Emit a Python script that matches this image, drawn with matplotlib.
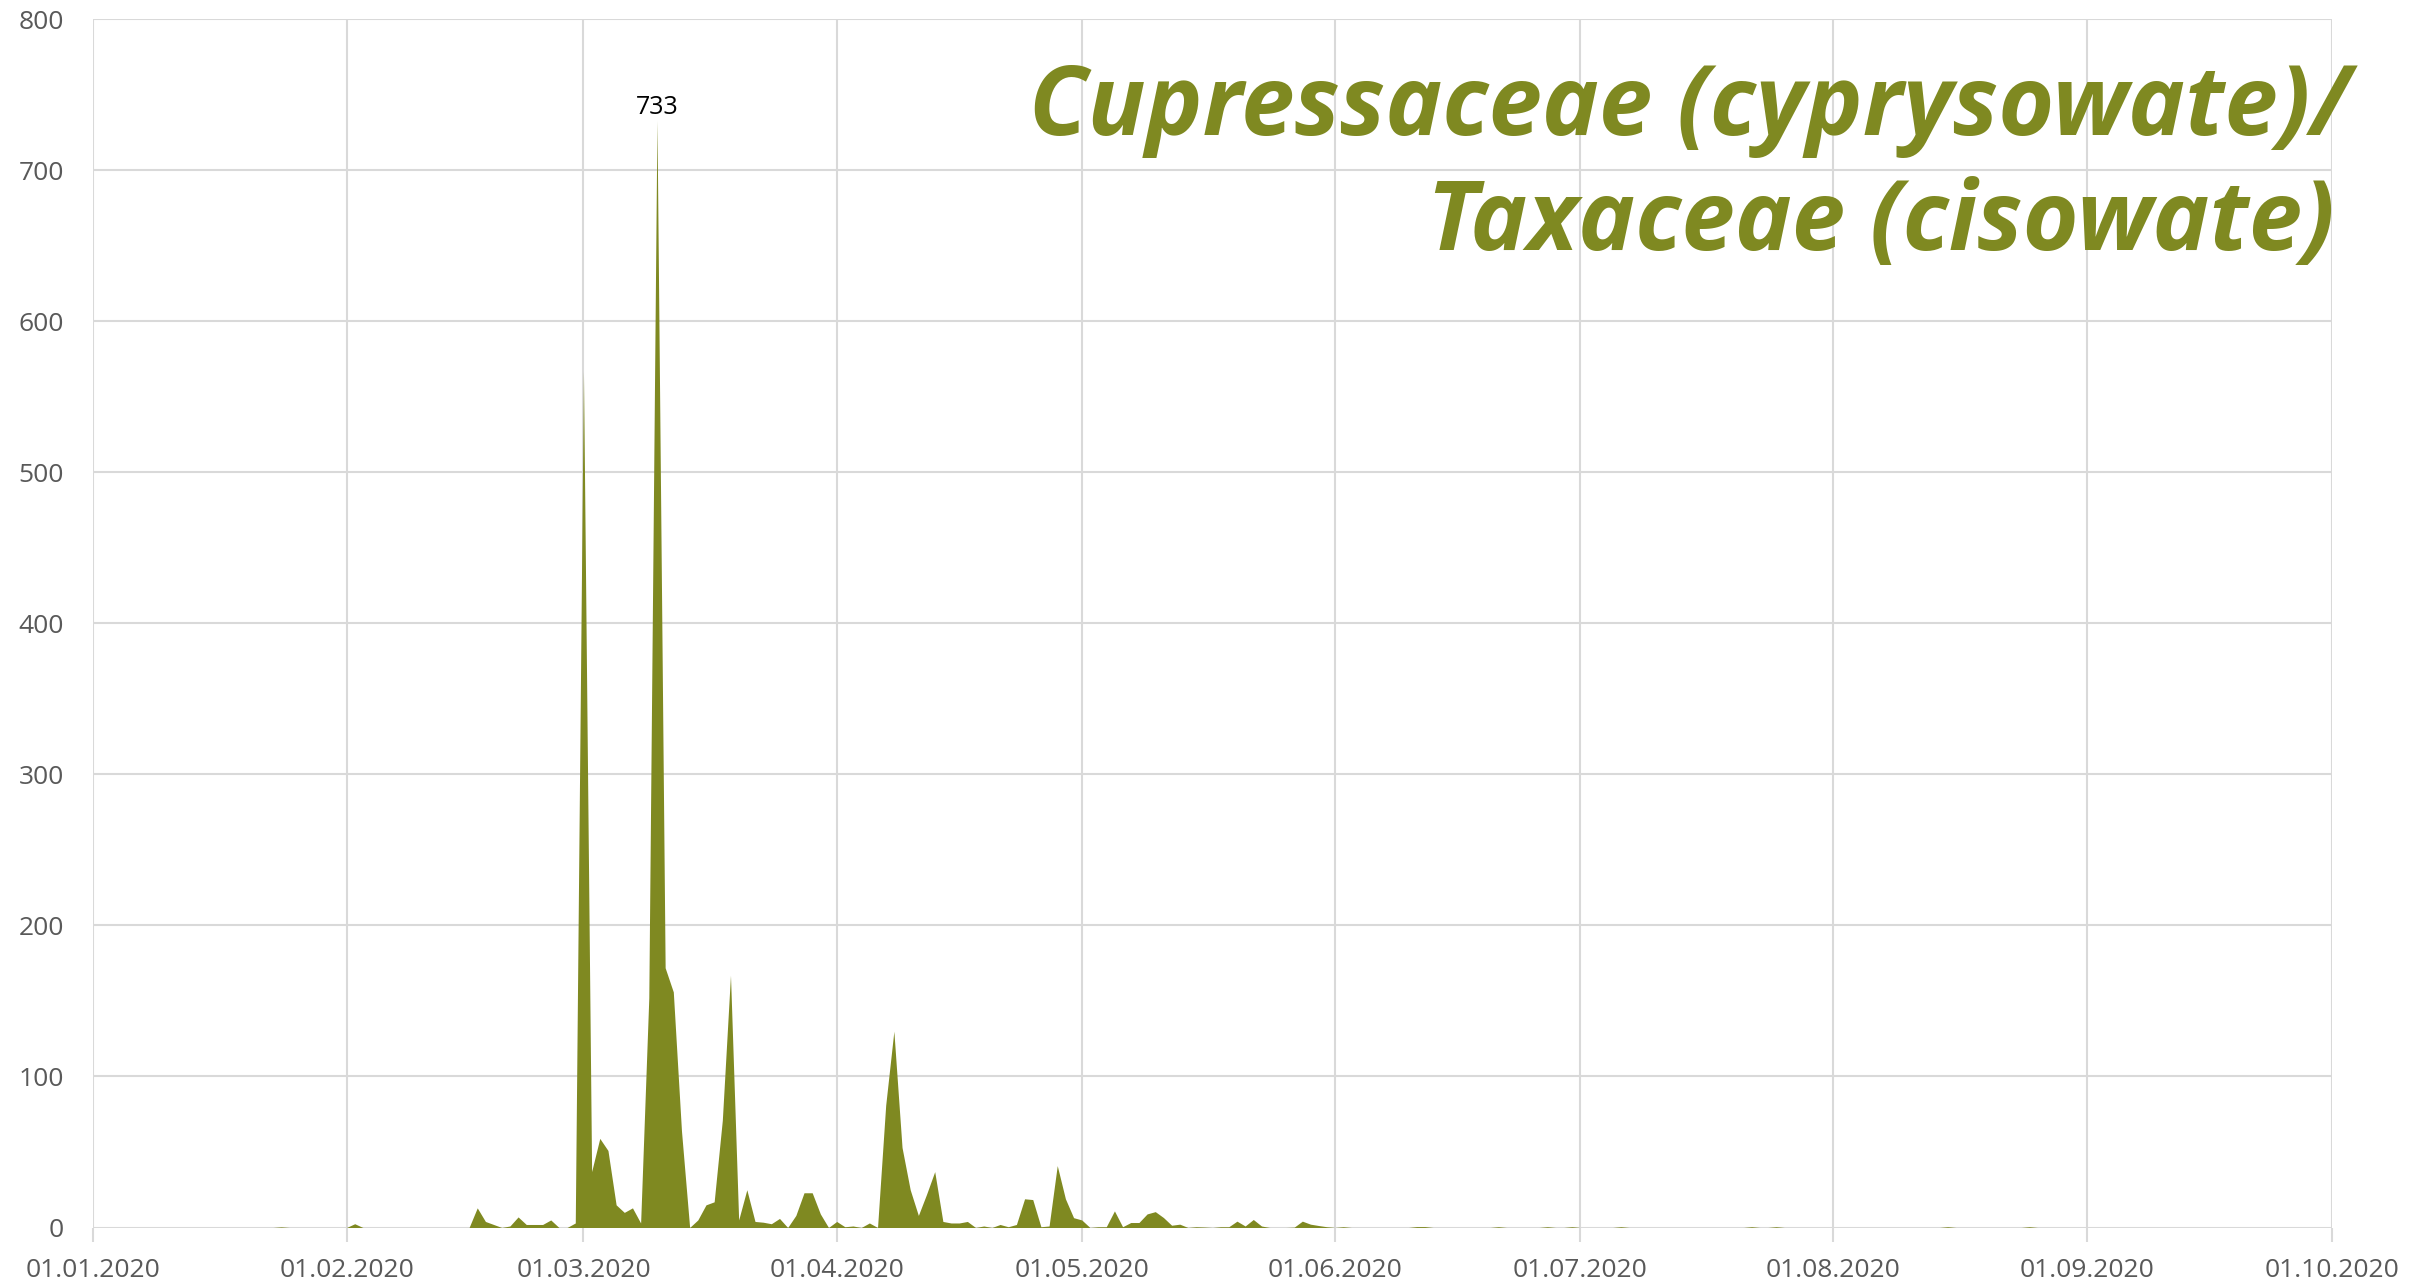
import matplotlib
matplotlib.use("Agg")
import matplotlib.pyplot as plt
import matplotlib.dates as mdates
from matplotlib import font_manager
import pandas as pd

# pollen counts, days not listed are zero
obs_dates = [
    "2020-01-24", "2020-02-02",
    "2020-02-17", "2020-02-18", "2020-02-19", "2020-02-21", "2020-02-22", "2020-02-23",
    "2020-02-24", "2020-02-25", "2020-02-26", "2020-02-29",
    "2020-03-01", "2020-03-02", "2020-03-03", "2020-03-04", "2020-03-05", "2020-03-06",
    "2020-03-07", "2020-03-08", "2020-03-09", "2020-03-10", "2020-03-11", "2020-03-12",
    "2020-03-13", "2020-03-15", "2020-03-16", "2020-03-17", "2020-03-18", "2020-03-19",
    "2020-03-20", "2020-03-21", "2020-03-22", "2020-03-23", "2020-03-24", "2020-03-25",
    "2020-03-27", "2020-03-28", "2020-03-29", "2020-03-30",
    "2020-04-01", "2020-04-02", "2020-04-03", "2020-04-05", "2020-04-07", "2020-04-08",
    "2020-04-09", "2020-04-10", "2020-04-11", "2020-04-12", "2020-04-13", "2020-04-14",
    "2020-04-15", "2020-04-16", "2020-04-17", "2020-04-19", "2020-04-21", "2020-04-22",
    "2020-04-23", "2020-04-24", "2020-04-25", "2020-04-26", "2020-04-27", "2020-04-28",
    "2020-04-29", "2020-04-30",
    "2020-05-01", "2020-05-03", "2020-05-04", "2020-05-05", "2020-05-06", "2020-05-07",
    "2020-05-08", "2020-05-09", "2020-05-10", "2020-05-11", "2020-05-12", "2020-05-13",
    "2020-05-15", "2020-05-16", "2020-05-18", "2020-05-19", "2020-05-20", "2020-05-21",
    "2020-05-22", "2020-05-23", "2020-05-27", "2020-05-28", "2020-05-29", "2020-05-30",
    "2020-05-31", "2020-06-02", "2020-06-11", "2020-06-12", "2020-06-21", "2020-06-27",
    "2020-06-30", "2020-07-06", "2020-07-22", "2020-07-25", "2020-08-15", "2020-08-25",
]
obs_values = [
    0.4, 2.5,
    13, 4, 2, 1, 7, 2,
    2, 2, 5, 3,
    567, 37, 59, 51, 15, 10,
    13, 3, 152, 733, 172, 156,
    64, 5, 15, 17, 71, 167,
    5, 25, 4, 3.5, 2.5, 6,
    8, 23, 23, 9,
    4, 0.5, 1, 3, 81, 130,
    53, 25, 8, 22, 37, 4,
    3, 3, 4, 1, 2, 0.5,
    2, 19, 18.5, 0.5, 1, 41,
    19, 6.5,
    5, 0.5, 0.5, 11, 0.5, 3.3,
    3.3, 9, 10.5, 6.6, 1.5, 2.2,
    0.5, 0.3, 0.5, 0.5, 4.2, 1,
    5.3, 1, 0.2, 4.2, 2.2, 1.3,
    0.5, 0.5, 0.6, 0.6, 0.5, 0.5,
    0.5, 0.5, 0.5, 0.5, 0.5, 0.5,
]

title_lines = ["Cupressaceae (cyprysowate)/", "Taxaceae (cisowate)"]
peak_label = "733"
y_ticks = [0, 100, 200, 300, 400, 500, 600, 700, 800]

OLIVE = "#7f8921"
GRID = "#d9d9d9"
TICK_COL = "#595959"

days = pd.date_range("2020-01-01", "2020-10-01", freq="D")
series = pd.Series(0.0, index=days)
series.loc[pd.to_datetime(obs_dates)] = obs_values

available = {f.name for f in font_manager.fontManager.ttflist}
title_font = "Liberation Sans Narrow" if "Liberation Sans Narrow" in available else "Open Sans"
label_font = "Open Sans" if "Open Sans" in available else "DejaVu Sans"

fig = plt.figure(figsize=(24.33, 12.87), dpi=100)
ax = fig.add_axes([0.03835, 0.04623, 0.91998, 0.93877])

ax.fill_between(series.index, series.values, 0, color=OLIVE, lw=0, zorder=3)

ax.set_xlim(days[0], days[-1])
ax.set_ylim(0, 800)

month_starts = pd.date_range("2020-01-01", "2020-10-01", freq="MS")
ax.set_xticks(month_starts)
ax.xaxis.set_major_formatter(mdates.DateFormatter("%d.%m.%Y"))
ax.set_yticks(y_ticks)

ax.grid(True, color=GRID, lw=1.5, zorder=0)
for s in ax.spines.values():
    s.set_visible(False)
ax.tick_params(axis="x", length=10, width=1.5, color=GRID, pad=12,
               labelsize=19, labelcolor=TICK_COL)
ax.tick_params(axis="y", length=0, pad=21, labelsize=19, labelcolor=TICK_COL)
for lab in ax.get_xticklabels() + ax.get_yticklabels():
    lab.set_fontfamily(label_font)

# peak annotation
peak_day = series.idxmax()
ax.annotate(peak_label, (peak_day, series.max()), xytext=(0, 0),
            textcoords="offset points", ha="center", va="bottom",
            fontsize=18, color="black", family=label_font, zorder=5)

ax.text(1.0085, 0.9044, title_lines[0], transform=ax.transAxes, ha="right",
        va="baseline", fontsize=69, fontweight="bold", fontstyle="italic",
        color=OLIVE, family=title_font, zorder=6)
ax.text(1.0015, 0.809, title_lines[1], transform=ax.transAxes, ha="right",
        va="baseline", fontsize=69, fontweight="bold", fontstyle="italic",
        color=OLIVE, family=title_font, zorder=6)

fig.savefig("out.png", dpi=100)
